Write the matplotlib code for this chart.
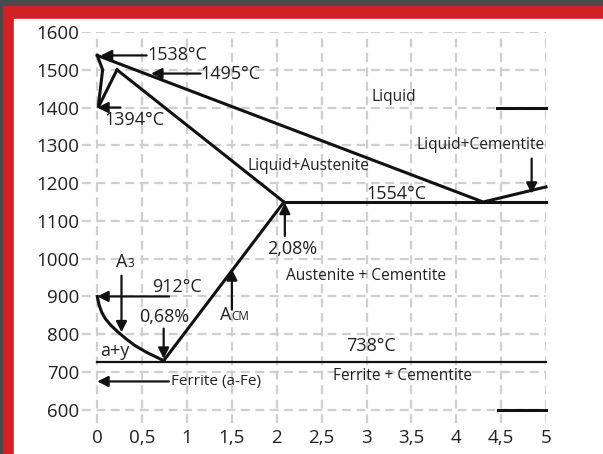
import matplotlib
matplotlib.use("Agg")
import matplotlib.pyplot as plt
from matplotlib.patches import Rectangle

plt.rcParams['font.family'] = ['Open Sans', 'DejaVu Sans']

# axis ticks
x_ticks = [0, 0.5, 1, 1.5, 2, 2.5, 3, 3.5, 4, 4.5, 5]
x_labels = ['0', '0,5', '1', '1,5', '2', '2,5', '3', '3,5', '4', '4,5', '5']
y_ticks = [600, 700, 800, 900, 1000, 1100, 1200, 1300, 1400, 1500, 1600]

# phase boundaries (carbon %, temperature)
liquidus_x = [0, 4.3, 5]
liquidus_y = [1538, 1150, 1190]
delta_x = [0, 0.06, 0.01, 0.22]
delta_y = [1538, 1500, 1400, 1500]
solidus_x = [0.22, 2.08]
solidus_y = [1500, 1150]
eutectic_x = [2.08, 5]
eutectic_y = [1150, 1150]
a3_x = [0, 0.02, 0.05, 0.09, 0.15, 0.23, 0.32, 0.42, 0.55, 0.74]
a3_y = [900, 878, 858, 841, 824, 806, 788, 770, 752, 730]
acm_x = [0.74, 2.08]
acm_y = [730, 1150]
eutectoid_x = [0, 5]
eutectoid_y = [727, 727]
top_seg_x = [4.45, 5]
top_seg_y = [1400, 1400]
bottom_seg_x = [4.47, 5]
bottom_seg_y = [600, 600]

# arrows: (from, to)
arrows = [
    ((0.55, 1538), (0.04, 1538)),
    ((1.15, 1490), (0.6, 1490)),
    ((0.26, 1400), (0.0, 1400)),
    ((0.8, 900), (0.0, 900)),
    ((0.8, 675), (0.0, 675)),
    ((0.27, 955), (0.27, 805)),
    ((0.74, 815), (0.74, 735)),
    ((1.5, 865), (1.5, 972)),
    ((2.09, 1060), (2.09, 1148)),
    ((4.84, 1265), (4.84, 1172)),
]

# (text, x, y, size, ha)
labels = [
    ('1538°C', 0.56, 1538, 13, 'left'),
    ('1495°C', 1.15, 1490, 13, 'left'),
    ('1394°C', 0.42, 1368, 13, 'center'),
    ('912°C', 0.89, 925, 13, 'center'),
    ('0,68%', 0.75, 845, 13, 'center'),
    ('2,08%', 2.17, 1025, 13, 'center'),
    ('a+y', 0.2, 755, 13, 'center'),
    ('Ferrite (a-Fe)', 0.82, 675, 11, 'left'),
    ('738°C', 3.05, 770, 13, 'center'),
    ('Ferrite + Cementite', 3.4, 690, 11.2, 'center'),
    ('Austenite + Cementite', 2.99, 955, 11.2, 'center'),
    ('1554°C', 3.33, 1172, 13, 'center'),
    ('Liquid+Austenite', 2.35, 1245, 11.2, 'center'),
    ('Liquid', 3.3, 1428, 11.2, 'center'),
    ('Liquid+Cementite', 4.27, 1300, 11.2, 'center'),
]

# (main, small, x, y)
sub_labels = [
    ('A', '3', 0.21, 978),
    ('A', 'CM', 1.37, 838),
]

fig = plt.figure(figsize=(6.03, 4.54), dpi=100)
fig.patches.append(Rectangle((0, 0), 1, 1, transform=fig.transFigure,
                             color='#4a4a4c', zorder=-10))
fig.patches.append(Rectangle((3 / 603, 0), 1, 1 - 6 / 454, transform=fig.transFigure,
                             color='#d02127', zorder=-9))
fig.patches.append(Rectangle((14 / 603, 0), 1, 1 - 19 / 454, transform=fig.transFigure,
                             color='white', zorder=-8))

ax = fig.add_axes([82 / 603, 1 - 423 / 454, 464 / 603, 391 / 454])
ax.set_facecolor('none')
ax.set_xlim(-0.17, 5)
ax.set_ylim(565, 1600)
for s in ax.spines.values():
    s.set_visible(False)
ax.set_xticks(x_ticks)
ax.set_xticklabels(x_labels)
ax.set_yticks(y_ticks)
ax.tick_params(length=0, labelsize=13.5, colors='#231f20')
ax.tick_params(axis='y', pad=2)
ax.tick_params(axis='x', pad=4)
ax.grid(True, color='#cfcfcf', linestyle=(0, (4, 2.5)), linewidth=1.6)
ax.set_axisbelow(True)

line_kw = dict(color='#111111', lw=2.2, clip_on=False, solid_joinstyle='miter')
ax.plot(liquidus_x, liquidus_y, **line_kw)
ax.plot(delta_x, delta_y, **line_kw)
ax.plot(solidus_x, solidus_y, **line_kw)
ax.plot(eutectic_x, eutectic_y, **line_kw)
ax.plot(a3_x, a3_y, color='#111111', lw=2.2, clip_on=False)
ax.plot(acm_x, acm_y, **line_kw)
ax.plot(eutectoid_x, eutectoid_y, color='#111111', lw=1.6, clip_on=False)
ax.plot(top_seg_x, top_seg_y, **line_kw)
ax.plot(bottom_seg_x, bottom_seg_y, **line_kw)

arrow_kw = dict(arrowstyle='-|>', color='#111111', lw=1.6, mutation_scale=16,
                shrinkA=0, shrinkB=0)
for start, end in arrows:
    ax.annotate('', xy=end, xytext=start, arrowprops=arrow_kw, annotation_clip=False)

for txt, x, y, size, ha in labels:
    ax.text(x, y, txt, fontsize=size, ha=ha, va='center', color='#231f20')

for main, small, x, y in sub_labels:
    ax.text(x, y, main, fontsize=13, ha='left', va='baseline', color='#231f20')
    ax.annotate(small, xy=(x, y), xytext=(8.3, 0), textcoords='offset points',
                fontsize=8.5, ha='left', va='baseline', color='#231f20')

fig.savefig('out.png', dpi=100)
